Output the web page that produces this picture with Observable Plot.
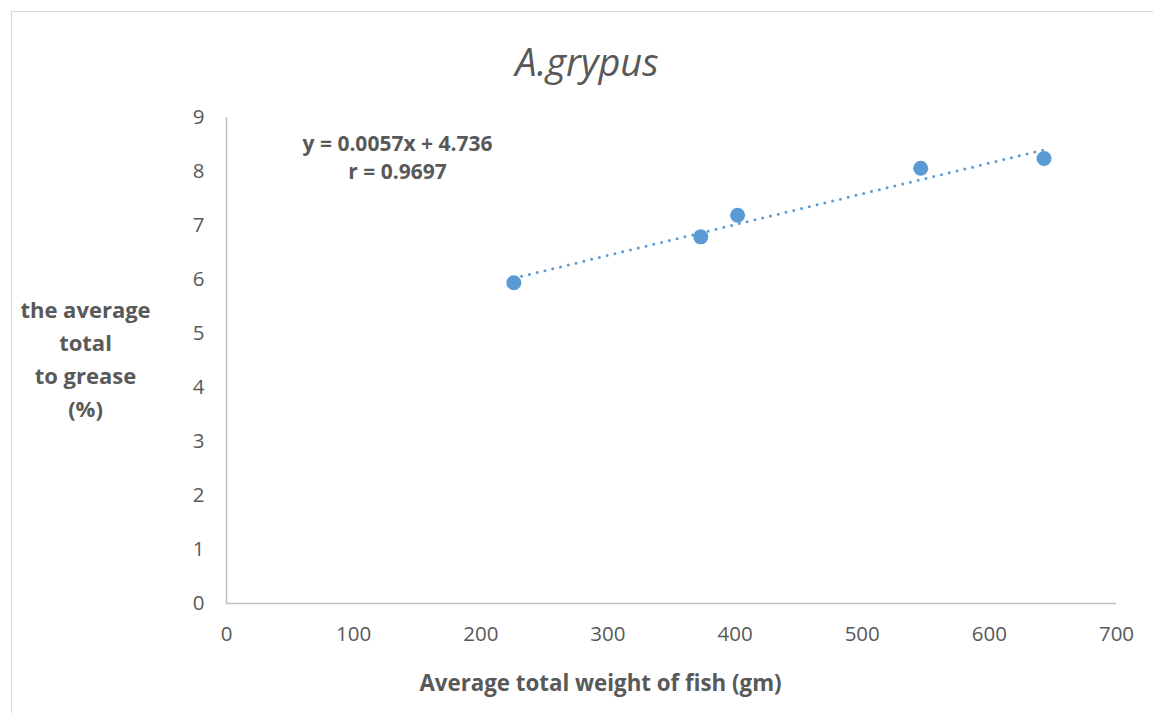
<!DOCTYPE html>
<html>
<head>
<meta charset="utf-8">
<script src="https://cdn.jsdelivr.net/npm/d3@7"></script>
<script src="https://cdn.jsdelivr.net/npm/@observablehq/plot@0.6"></script>
<style>
  html, body { margin: 0; padding: 0; background: #fff; }
  body { width: 1153px; height: 713px; position: relative; overflow: hidden; font-family: "Open Sans", sans-serif; }
  #frame { position: absolute; left: 11px; top: 11px; width: 1170px; height: 730px; border: 1.5px solid #d9d9d9; box-sizing: border-box; }
  #title { position: absolute; left: 0; top: 38px; width: 1153px; padding-left: 21px; box-sizing: border-box; text-align: center;
           font-size: 38px; font-style: italic; color: #595959; line-height: 46px; }
  #chart { position: absolute; left: 0; top: 96px; }
</style>
</head>
<body>
<div id="frame"></div>
<div id="title">A.grypus</div>
<div id="chart"></div>
<script>
// Data
const weights = [226, 373, 402, 546, 643];        // Average total weight of fish (gm)
const grease  = [5.94, 6.79, 7.19, 8.06, 8.24];   // average total grease (%)
const slope = 0.0057, intercept = 4.736;          // trendline y = 0.0057x + 4.736
const equationLabel = "y = 0.0057x + 4.736\nr = 0.9697";
const xTicks = [0, 100, 200, 300, 400, 500, 600, 700];
const yTicks = [0, 1, 2, 3, 4, 5, 6, 7, 8, 9];
const xLabel = "Average total weight of fish (gm)";
const yLabel = "the average\ntotal\nto grease\n(%)";

const points = weights.map((w, i) => ({w, g: grease[i]}));
const xmin = d3.min(weights), xmax = d3.max(weights);
const trend = [xmin, xmax].map(w => ({w, g: slope * w + intercept}));

const blue = "#5b9bd5", grey = "#595959";

const chart = Plot.plot({
  width: 1153,
  height: 617,
  marginLeft: 226,
  marginRight: 37,
  marginTop: 21,
  marginBottom: 110,
  style: {fontFamily: "Open Sans, sans-serif", fontSize: "20.5px", color: grey, background: "transparent"},
  x: {domain: [0, 700], ticks: xTicks, tickSize: 0, tickPadding: 23, label: null},
  y: {domain: [0, 9], ticks: yTicks, tickSize: 0, tickPadding: 22, label: null},
  marks: [
    Plot.ruleY([0], {stroke: "#bfbfbf", strokeWidth: 1.5}),
    Plot.ruleX([0], {stroke: "#bfbfbf", strokeWidth: 1.5}),
    Plot.line(trend, {x: "w", y: "g", stroke: blue, strokeWidth: 3, strokeDasharray: "0 8", strokeLinecap: "round"}),
    Plot.dot(points, {x: "w", y: "g", r: 7.5, fill: blue, stroke: "none"}),
    Plot.text([equationLabel], {text: d => d, frameAnchor: "top-left", dx: 171, dy: 39, lineAnchor: "middle",
      textAnchor: "middle", fontSize: 21, fontWeight: "bold", fill: grey, lineHeight: 1.33}),
    Plot.text([yLabel], {text: d => d, frameAnchor: "left", dx: -141, dy: -4, lineAnchor: "middle",
      textAnchor: "middle", fontSize: 22, fontWeight: "bold", fill: grey, lineHeight: 1.5}),
    Plot.text([xLabel], {text: d => d, frameAnchor: "bottom", dx: -71, dy: 80, lineAnchor: "middle",
      textAnchor: "middle", fontSize: 22.3, fontWeight: "bold", fill: grey})
  ]
});
document.getElementById("chart").appendChild(chart);
</script>
</body>
</html>
